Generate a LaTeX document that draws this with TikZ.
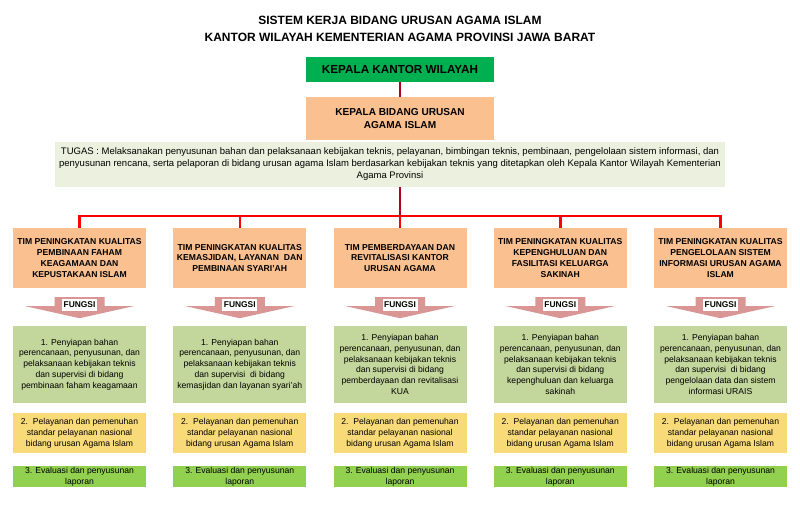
\documentclass[tikz,border=0pt]{standalone}
\usepackage{fontspec}
\setmainfont{Liberation Sans}
\usepackage{tikz}
\usetikzlibrary{positioning}

\definecolor{hijau}{HTML}{00B050}
\definecolor{oranye}{HTML}{FAC090}
\definecolor{krem}{HTML}{EBF1DE}
\definecolor{hijaumuda}{HTML}{C3D69B}
\definecolor{kuning}{HTML}{F9DA78}
\definecolor{hijaulumut}{HTML}{92D050}
\definecolor{merahtua}{HTML}{B00020}
\definecolor{merahmuda}{HTML}{D99694}

\begin{document}
\begin{tikzpicture}[x=1pt,y=-1pt]
\tikzstyle{kotak}=[rectangle,inner sep=0pt,align=center]
\tikzstyle{kepala}=[kotak,minimum width=188pt,font=\bfseries]
\tikzstyle{tim}=[kotak,fill=oranye,minimum width=133pt,minimum height=60pt,font=\fontsize{8.6}{10.8}\selectfont\bfseries]
\tikzstyle{isi}=[kotak,minimum width=133pt,font=\fontsize{8.6}{10.8}\selectfont]
\tikzstyle{label}=[kotak,fill=white,minimum width=35pt,minimum height=11.5pt,font=\fontsize{8.4}{9}\selectfont\bfseries]
\tikzstyle{panah}=[fill=merahmuda]
\tikzstyle{garistua}=[draw=merahtua,line width=2pt]
\tikzstyle{garismerah}=[draw=red,line width=2.5pt]

\useasboundingbox (0,0) rectangle (800,528);

\node[kotak,font=\fontsize{12}{17}\selectfont\bfseries] (judul) at (400,28.5)
  {SISTEM KERJA BIDANG URUSAN AGAMA ISLAM\\KANTOR WILAYAH KEMENTERIAN AGAMA PROVINSI JAWA BARAT};

\node[kepala,fill=hijau,minimum height=25pt,font=\fontsize{11.7}{14}\selectfont\bfseries] (kakanwil) at (400,69.5) {KEPALA KANTOR WILAYAH};
\node[kepala,fill=oranye,minimum height=43pt,font=\fontsize{10.1}{13}\selectfont\bfseries] (kabid) at (400,118.5) {KEPALA BIDANG URUSAN\\AGAMA ISLAM};
\node[kotak,fill=krem,minimum width=670pt,minimum height=45pt,font=\fontsize{9.5}{12}\selectfont] (tugas) at (390,164.5)
  {TUGAS : Melaksanakan penyusunan bahan dan pelaksanaan kebijakan teknis, pelayanan, bimbingan teknis, pembinaan, pengelolaan sistem informasi, dan\\
   penyusunan rencana, serta pelaporan di bidang urusan agama Islam berdasarkan kebijakan teknis yang ditetapkan oleh Kepala Kantor Wilayah Kementerian\\
   Agama Provinsi};
\coordinate (cabang) at (400,216);

% tim
\node[tim] (t1) at (79.5,258) {TIM PENINGKATAN KUALITAS\\PEMBINAAN FAHAM\\KEAGAMAAN DAN\\KEPUSTAKAAN ISLAM};
\node[tim] (t2) at (239.75,258) {TIM PENINGKATAN KUALITAS\\KEMASJIDAN, LAYANAN\ \ DAN\\PEMBINAAN SYARI'AH};
\node[tim] (t3) at (400,258) {TIM PEMBERDAYAAN DAN\\REVITALISASI KANTOR\\URUSAN AGAMA};
\node[tim] (t4) at (560.25,258) {TIM PENINGKATAN KUALITAS\\KEPENGHULUAN DAN\\FASILITASI KELUARGA\\SAKINAH};
\node[tim] (t5) at (720.5,258) {TIM PENINGKATAN KUALITAS\\PENGELOLAAN SISTEM\\INFORMASI URUSAN AGAMA\\ISLAM};

% garis
\draw[garistua] (kakanwil) -- (kabid);
\draw[garistua] (tugas.south -| cabang) -- (cabang);
\draw[garismerah] (t1.north) -- (t1.north |- cabang) -- (t5.north |- cabang) -- (t5.north);
\draw[garismerah] (t2.north) -- (t2.north |- cabang);
\draw[garismerah] (t3.north) -- (cabang);
\draw[garismerah] (t4.north) -- (t4.north |- cabang);

% panah fungsi
\fill[panah] (t1.south) ++(-25,9) -- ++(50,0) -- ++(0,9) -- ++(29,0) -- ++(-54,12) -- ++(-54,-12) -- ++(29,0) -- cycle;
\fill[panah] (t2.south) ++(-25,9) -- ++(50,0) -- ++(0,9) -- ++(29,0) -- ++(-54,12) -- ++(-54,-12) -- ++(29,0) -- cycle;
\fill[panah] (t3.south) ++(-25,9) -- ++(50,0) -- ++(0,9) -- ++(29,0) -- ++(-54,12) -- ++(-54,-12) -- ++(29,0) -- cycle;
\fill[panah] (t4.south) ++(-25,9) -- ++(50,0) -- ++(0,9) -- ++(29,0) -- ++(-54,12) -- ++(-54,-12) -- ++(29,0) -- cycle;
\fill[panah] (t5.south) ++(-25,9) -- ++(50,0) -- ++(0,9) -- ++(29,0) -- ++(-54,12) -- ++(-54,-12) -- ++(29,0) -- cycle;
\node[label] (f1) at (79.5,305) {FUNGSI};
\node[label] (f2) at (239.75,305) {FUNGSI};
\node[label] (f3) at (400,305) {FUNGSI};
\node[label] (f4) at (560.25,305) {FUNGSI};
\node[label] (f5) at (720.5,305) {FUNGSI};

% fungsi 1
\node[isi,fill=hijaumuda,minimum height=77pt] (siap1) at (79.5,364.5) {1. Penyiapan bahan\\perencanaan, penyusunan, dan\\pelaksanaan kebijakan teknis\\dan supervisi di bidang\\pembinaan faham keagamaan};
\node[isi,fill=hijaumuda,minimum height=77pt] (siap2) at (239.75,364.5) {1. Penyiapan bahan\\perencanaan, penyusunan, dan\\pelaksanaan kebijakan teknis\\dan supervisi\ \ di bidang\\kemasjidan dan layanan syari'ah};
\node[isi,fill=hijaumuda,minimum height=77pt] (siap3) at (400,364.5) {1. Penyiapan bahan\\perencanaan, penyusunan, dan\\pelaksanaan kebijakan teknis\\dan supervisi di bidang\\pemberdayaan dan revitalisasi\\KUA};
\node[isi,fill=hijaumuda,minimum height=77pt] (siap4) at (560.25,364.5) {1. Penyiapan bahan\\perencanaan, penyusunan, dan\\pelaksanaan kebijakan teknis\\dan supervisi di bidang\\kepenghuluan dan keluarga\\sakinah};
\node[isi,fill=hijaumuda,minimum height=77pt] (siap5) at (720.5,364.5) {1. Penyiapan bahan\\perencanaan, penyusunan, dan\\pelaksanaan kebijakan teknis\\dan supervisi\ \ di bidang\\pengelolaan data dan sistem\\informasi URAIS};

% fungsi 2
\node[isi,fill=kuning,minimum height=40pt] (layan1) at (79.5,433) {2.\ \ Pelayanan dan pemenuhan\\standar pelayanan nasional\\bidang urusan Agama Islam};
\node[isi,fill=kuning,minimum height=40pt] (layan2) at (239.75,433) {2.\ \ Pelayanan dan pemenuhan\\standar pelayanan nasional\\bidang urusan Agama Islam};
\node[isi,fill=kuning,minimum height=40pt] (layan3) at (400,433) {2.\ \ Pelayanan dan pemenuhan\\standar pelayanan nasional\\bidang urusan Agama Islam};
\node[isi,fill=kuning,minimum height=40pt] (layan4) at (560.25,433) {2.\ \ Pelayanan dan pemenuhan\\standar pelayanan nasional\\bidang urusan Agama Islam};
\node[isi,fill=kuning,minimum height=40pt] (layan5) at (720.5,433) {2.\ \ Pelayanan dan pemenuhan\\standar pelayanan nasional\\bidang urusan Agama Islam};

% fungsi 3
\node[isi,fill=hijaulumut,minimum height=21pt] (eval1) at (79.5,476.5) {3. Evaluasi dan penyusunan\\laporan};
\node[isi,fill=hijaulumut,minimum height=21pt] (eval2) at (239.75,476.5) {3. Evaluasi dan penyusunan\\laporan};
\node[isi,fill=hijaulumut,minimum height=21pt] (eval3) at (400,476.5) {3. Evaluasi dan penyusunan\\laporan};
\node[isi,fill=hijaulumut,minimum height=21pt] (eval4) at (560.25,476.5) {3. Evaluasi dan penyusunan\\laporan};
\node[isi,fill=hijaulumut,minimum height=21pt] (eval5) at (720.5,476.5) {3. Evaluasi dan penyusunan\\laporan};
\end{tikzpicture}
\end{document}
